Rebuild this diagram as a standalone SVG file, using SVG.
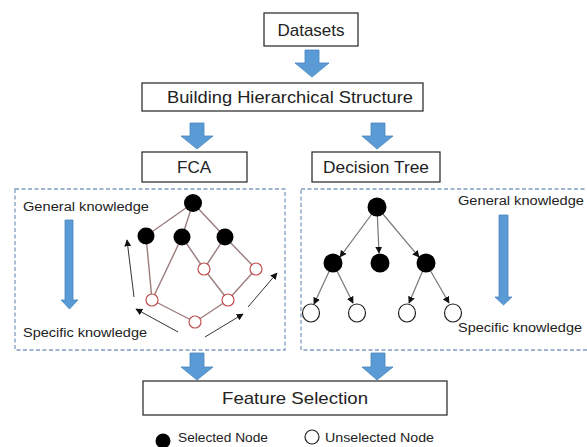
<svg xmlns="http://www.w3.org/2000/svg" width="587" height="447" viewBox="0 0 587 447">
<style>
.box{fill:#fff;stroke:#222;stroke-width:1.2}
.dash{fill:none;stroke:#7f9cc0;stroke-width:1.3;stroke-dasharray:4 2.5}
.t{font-family:"Liberation Sans",Arial,sans-serif;fill:#222}
.big{font-size:17px}
.sm{font-size:12.5px}
.blue{fill:#5b9bd5;stroke:#4a86be;stroke-width:0.8}
.lat{stroke:#9a7c7c;stroke-width:1.4;fill:none}
.sel{fill:#000}
.un{fill:#fff;stroke:#c05050;stroke-width:1.2}
.unt{fill:#fff;stroke:#222;stroke-width:1.2}
.blk{stroke:#333;stroke-width:1;fill:none;marker-end:url(#ah)}
.tr{stroke:#777;stroke-width:1.2;fill:none;marker-end:url(#ah)}
</style>
<defs>
<marker id="ah" viewBox="0 0 10 10" refX="9" refY="5" markerWidth="7" markerHeight="7" orient="auto" markerUnits="userSpaceOnUse">
<path d="M0,0 L10,5 L0,10 z" fill="#111"/>
</marker>
</defs>

<g id="connectors">
<path class="blue" d="M305,50 H319 V63 H329 L312,77 L295,63 H305 Z"/>
<path class="blue" d="M190,123 H204 V136 H213 L197,149 L181,136 H190 Z"/>
<path class="blue" d="M371,123 H385 V136 H393 L377,149 L362,136 H371 Z"/>
<path class="blue" d="M190,353 H204 V367 H213 L197,380 L181,367 H190 Z"/>
<path class="blue" d="M371,353 H385 V367 H393 L377,380 L362,367 H371 Z"/>
</g>

<g id="datasets">
<rect class="box" x="264" y="13" width="94" height="33"/>
<text class="t big" x="311" y="36" text-anchor="middle">Datasets</text>
</g>

<g id="building">
<rect class="box" x="142" y="83" width="281" height="28"/>
<text class="t big" x="290" y="103" text-anchor="middle" textLength="246" lengthAdjust="spacingAndGlyphs">Building Hierarchical Structure</text>
</g>

<g id="fca">
<rect class="box" x="142" y="152" width="105" height="30"/>
<text class="t big" x="194" y="173" text-anchor="middle">FCA</text>
</g>

<g id="decision-tree">
<rect class="box" x="312" y="152" width="128" height="30"/>
<text class="t big" x="376" y="173" text-anchor="middle" textLength="106" lengthAdjust="spacingAndGlyphs">Decision Tree</text>
</g>

<g id="fca-panel">
<rect class="dash" x="15" y="189" width="270" height="161"/>
<text class="t sm" x="23" y="211" textLength="126" lengthAdjust="spacingAndGlyphs">General knowledge</text>
<path class="blue" d="M65,220 H73 V300 H78 L69.5,309 L61,300 H65 Z"/>
<text class="t sm" x="23" y="337" textLength="124" lengthAdjust="spacingAndGlyphs">Specific knowledge</text>
<g class="lat">
<line x1="193" y1="203" x2="146" y2="236"/>
<line x1="193" y1="203" x2="182" y2="237"/>
<line x1="193" y1="203" x2="225" y2="237"/>
<line x1="146" y1="236" x2="152" y2="300"/>
<line x1="182" y1="237" x2="152" y2="300"/>
<line x1="182" y1="237" x2="204" y2="269"/>
<line x1="225" y1="237" x2="204" y2="269"/>
<line x1="225" y1="237" x2="256" y2="269"/>
<line x1="204" y1="269" x2="228" y2="300"/>
<line x1="256" y1="269" x2="228" y2="300"/>
<line x1="152" y1="300" x2="195" y2="322"/>
<line x1="228" y1="300" x2="195" y2="322"/>
</g>
<circle class="sel" cx="193" cy="203" r="9"/>
<circle class="sel" cx="146" cy="236" r="8.5"/>
<circle class="sel" cx="182" cy="237" r="8.5"/>
<circle class="sel" cx="225" cy="237" r="8.5"/>
<circle class="un" cx="204" cy="269" r="6"/>
<circle class="un" cx="256" cy="269" r="6"/>
<circle class="un" cx="152" cy="300" r="6"/>
<circle class="un" cx="228" cy="300" r="6"/>
<circle class="un" cx="195" cy="322" r="6"/>
<line class="blk" x1="134" y1="297" x2="127" y2="240"/>
<line class="blk" x1="178" y1="332" x2="136" y2="309"/>
<line class="blk" x1="205" y1="337" x2="243" y2="314"/>
<line class="blk" x1="248" y1="307" x2="277" y2="273"/>
</g>

<g id="tree-panel">
<rect class="dash" x="301" y="189" width="290" height="161"/>
<text class="t sm" x="458" y="205" textLength="126" lengthAdjust="spacingAndGlyphs">General knowledge</text>
<path class="blue" d="M499,215 H508 V297 H512 L503.5,305 L495,297 H499 Z"/>
<text class="t sm" x="458" y="332" textLength="124" lengthAdjust="spacingAndGlyphs">Specific knowledge</text>
<line class="tr" x1="377" y1="207" x2="340" y2="257"/>
<line class="tr" x1="377" y1="207" x2="379" y2="253"/>
<line class="tr" x1="377" y1="207" x2="419" y2="257"/>
<line class="tr" x1="333" y1="263" x2="314" y2="304"/>
<line class="tr" x1="333" y1="263" x2="353" y2="303"/>
<line class="tr" x1="426" y1="263" x2="409" y2="303"/>
<line class="tr" x1="426" y1="263" x2="449" y2="303"/>
<circle class="sel" cx="377" cy="207" r="9.5"/>
<circle class="sel" cx="333" cy="263" r="9.5"/>
<circle class="sel" cx="380" cy="263" r="9.5"/>
<circle class="sel" cx="426" cy="263" r="9.5"/>
<ellipse class="unt" cx="311" cy="313" rx="8.5" ry="9"/>
<ellipse class="unt" cx="357" cy="313" rx="8.5" ry="9"/>
<ellipse class="unt" cx="407" cy="313" rx="8.5" ry="9"/>
<ellipse class="unt" cx="453" cy="313" rx="8.5" ry="9"/>
</g>

<g id="feature-selection">
<rect class="box" x="143" y="381" width="304" height="34"/>
<text class="t big" x="295" y="404" text-anchor="middle" textLength="146" lengthAdjust="spacingAndGlyphs">Feature Selection</text>
</g>

<g id="legend">
<circle cx="163" cy="441" r="7.5" fill="#000"/>
<text class="t sm" x="178" y="442" textLength="90" lengthAdjust="spacingAndGlyphs">Selected Node</text>
<circle cx="312" cy="437" r="7" fill="#fff" stroke="#222" stroke-width="1.2"/>
<text class="t sm" x="325" y="442" textLength="109" lengthAdjust="spacingAndGlyphs">Unselected Node</text>
</g>
</svg>
